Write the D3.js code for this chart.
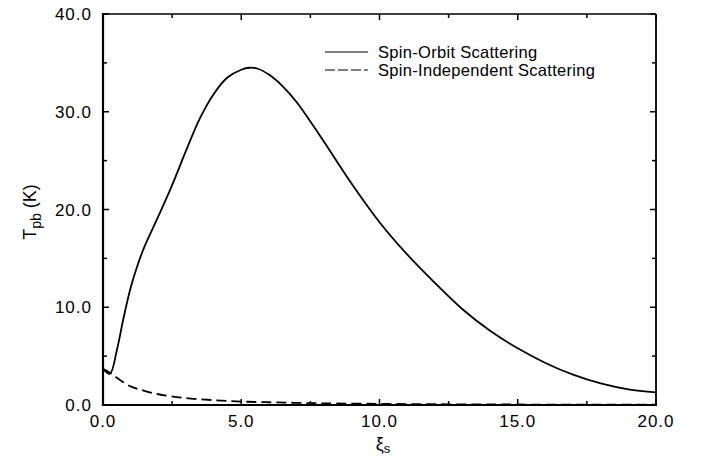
<!DOCTYPE html>
<html>
<head>
<meta charset="utf-8">
<script src="https://cdn.jsdelivr.net/npm/d3@7"></script>
<style>
  body { margin: 0; background: #fff; }
  text { font-family: "Liberation Sans", Arial, sans-serif; fill: #000; }
</style>
</head>
<body>
<svg width="701" height="457"></svg>
<script>
// values
var xiSolid = [0, 0.25, 0.5, 0.75, 1.0, 1.25, 1.5, 2.0, 2.5, 3.0, 3.5, 4.0, 4.5, 5.0, 5.3, 5.6, 6.0, 6.5, 7.0, 7.5, 8.0, 9.0, 10, 11, 12, 13, 14, 15, 16, 17, 18, 19, 20];
var spinOrbit = [3.7, 3.2, 5.6, 9.0, 12.0, 14.3, 16.2, 19.3, 22.5, 26.0, 29.3, 31.8, 33.5, 34.3, 34.5, 34.4, 33.8, 32.6, 31.0, 29.0, 26.9, 22.6, 18.7, 15.4, 12.5, 9.8, 7.6, 5.8, 4.3, 3.1, 2.2, 1.6, 1.3];
var xiDashed = [0, 0.25, 0.5, 1.0, 1.5, 2.0, 3.0, 4.0, 5.0, 6.0, 7.0, 8.0, 10, 12, 15, 20];
var spinIndep = [3.7, 3.3, 2.8, 1.9, 1.45, 1.1, 0.7, 0.5, 0.35, 0.28, 0.22, 0.17, 0.12, 0.08, 0.05, 0.03];
var xTicks = [0, 5, 10, 15, 20];
var yTicks = [0, 10, 20, 30, 40];
var legendLabels = ["Spin-Orbit Scattering", "Spin-Independent Scattering"];

var svg = d3.select("svg");

// plot box edges
var x = d3.scaleLinear().domain([0, 20]).range([103, 656]);
var y = d3.scaleLinear().domain([0, 40]).range([405, 14]);

var fmt = d3.format(".1f");

// minor ticks every half step
var xMinor = d3.range(0, 20.01, 2.5);
var yMinor = d3.range(0, 40.01, 5);

var g = svg.append("g");
// inward ticks on all four sides
function tickLines(vals, major, isX, at, dir) {
  g.selectAll(null)
    .data(vals)
    .enter().append("line")
      .attr("x1", function(d) { return isX ? x(d) : at; })
      .attr("x2", function(d) { return isX ? x(d) : at + dir * (major.indexOf(d) >= 0 ? 6 : 4); })
      .attr("y1", function(d) { return isX ? at : y(d); })
      .attr("y2", function(d) { return isX ? at + dir * (major.indexOf(d) >= 0 ? 6 : 4) : y(d); })
      .attr("stroke", "#000")
      .attr("stroke-width", 1.5);
}
tickLines(xMinor, xTicks, true, y(0), -1);
tickLines(xMinor, xTicks, true, y(40), 1);
tickLines(yMinor, yTicks, false, x(0), 1);
tickLines(yMinor, yTicks, false, x(20), -1);

// frame
g.append("line").attr("x1", x(0)).attr("x2", x(20)).attr("y1", y(40)).attr("y2", y(40))
  .attr("stroke", "#000").attr("stroke-width", 1.6);
g.append("line").attr("x1", x(20)).attr("x2", x(20)).attr("y1", y(40)).attr("y2", y(0))
  .attr("stroke", "#000").attr("stroke-width", 1.8);
g.append("line").attr("x1", x(0)).attr("x2", x(0)).attr("y1", y(40) - 1).attr("y2", y(0) + 1)
  .attr("stroke", "#000").attr("stroke-width", 2.2);
g.append("line").attr("x1", x(0) - 1).attr("x2", x(20) + 1).attr("y1", y(0)).attr("y2", y(0))
  .attr("stroke", "#000").attr("stroke-width", 2.2);

// tick labels
g.selectAll(".xlab")
  .data(xTicks)
  .enter().append("text")
    .attr("x", function(d) { return x(d); })
    .attr("y", 427)
    .attr("text-anchor", "middle")
    .attr("font-size", 17)
    .attr("letter-spacing", 1)
    .text(fmt);

g.selectAll(".ylab")
  .data(yTicks)
  .enter().append("text")
    .attr("x", 92)
    .attr("y", function(d) { return y(d); })
    .attr("dy", "0.36em")
    .attr("text-anchor", "end")
    .attr("font-size", 17)
    .attr("letter-spacing", 1)
    .text(fmt);

// axis titles
var yt = svg.append("text")
    .attr("transform", "translate(36,212) rotate(-90)")
    .attr("text-anchor", "middle")
    .attr("font-size", 18);
yt.append("tspan").text("T");
yt.append("tspan").attr("font-size", 14).attr("dy", 5).text("pb");
yt.append("tspan").attr("dy", -5).text(" (K)");

var xt = svg.append("text")
    .attr("x", 383)
    .attr("y", 450)
    .attr("font-size", 18)
    .attr("text-anchor", "middle");
xt.append("tspan").text("ξ");
xt.append("tspan").attr("font-size", 13).attr("dy", 3).text("s");

// curves
var line = d3.line()
    .x(function(d) { return x(d[0]); })
    .y(function(d) { return y(d[1]); })
    .curve(d3.curveCatmullRom.alpha(0.5));

svg.append("path")
    .datum(d3.zip(xiSolid, spinOrbit))
    .attr("d", line)
    .attr("fill", "none")
    .attr("stroke", "#000")
    .attr("stroke-width", 1.8);

svg.append("path")
    .datum(d3.zip(xiDashed, spinIndep))
    .attr("d", line)
    .attr("fill", "none")
    .attr("stroke", "#000")
    .attr("stroke-width", 1.8)
    .attr("stroke-dasharray", "10,5");

// legend
var leg = svg.append("g");
legendLabels.forEach(function(lab, i) {
  var ly = 52 + i * 18;
  leg.append("line")
    .attr("x1", 325).attr("x2", 368)
    .attr("y1", ly).attr("y2", ly)
    .attr("stroke", "#000")
    .attr("stroke-width", 1.2)
    .attr("stroke-dasharray", i == 0 ? null : "10,3");
  leg.append("text")
    .attr("x", 378)
    .attr("y", ly)
    .attr("dy", "0.35em")
    .attr("font-size", 16.5)
    .attr("letter-spacing", 0.3)
    .text(lab);
});
</script>
</body>
</html>
